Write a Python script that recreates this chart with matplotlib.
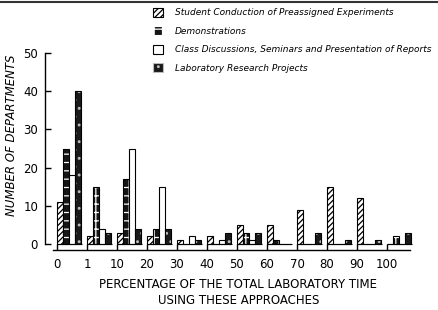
import numpy as np
import matplotlib
matplotlib.use("Agg")
from matplotlib import pyplot as plt
from matplotlib.patches import Patch
from matplotlib.lines import Line2D

# 数据
groups = ["0", "1", "10", "20", "30", "40", "50", "60", "70", "80", "90", "100"]
student = [11, 2, 3, 2, 1, 2, 5, 5, 9, 15, 12, 0]
demo = [25, 15, 17, 4, 0, 0, 3, 1, 0, 0, 0, 2]
classes = [18, 4, 25, 15, 2, 1, 1, 0, 0, 0, 0, 0]
lab = [40, 3, 4, 4, 1, 3, 3, 0, 3, 1, 1, 3]
labels = ["Student Conduction of Preassigned Experiments",
          "Demonstrations",
          "Class Discussions, Seminars and Presentation of Reports",
          "Laboratory Research Projects"]

W, H = 439, 310
fig = plt.figure(figsize=(W / 100, H / 100), dpi=100)

# 坐标轴位置（像素换算）
x0_px, px_per_x = 57, 30.0
y0_px, px_per_y = 244, 3.82
left_px, right_px, bot_px, top_px = 45, 432, 250, 20
ax = fig.add_axes([left_px / W, 1 - bot_px / H, (right_px - left_px) / W, (bot_px - top_px) / H])
ax.set_xlim((left_px - x0_px) / px_per_x, (right_px - x0_px) / px_per_x)
ax.set_ylim(-(bot_px - y0_px) / px_per_y, (y0_px - top_px) / px_per_y)

x = np.arange(len(groups))
w = 0.2
lw = 0.8

plt.rcParams['hatch.linewidth'] = 0.9
ax.bar(x, student, w, align="edge", facecolor="white", edgecolor="black", hatch="//////", linewidth=lw)
ax.bar(x + w, demo, w, align="edge", facecolor="#151515", edgecolor="white", hatch="++", linewidth=0)
ax.bar(x + w, demo, w, align="edge", facecolor="none", edgecolor="black", linewidth=lw)
ax.bar(x + 2 * w, classes, w, align="edge", facecolor="white", edgecolor="black", linewidth=lw)
ax.bar(x + 3 * w, lab, w, align="edge", facecolor="#1a1a1a", edgecolor="#bbbbbb", hatch="..", linewidth=0)
ax.bar(x + 3 * w, lab, w, align="edge", facecolor="none", edgecolor="black", linewidth=lw)
ax.hlines(np.zeros(len(x)), x, x + 4 * w + 0.03, color="black", linewidth=lw)

# 坐标轴样式
for s in ["top", "right"]:
    ax.spines[s].set_visible(False)
ax.spines["left"].set_bounds(0, 50)
ax.spines["bottom"].set_bounds((53 - x0_px) / px_per_x, (410 - x0_px) / px_per_x)
ax.spines["left"].set_linewidth(1)
ax.spines["bottom"].set_linewidth(1)

ax.set_yticks(range(0, 51, 10))
ax.set_xticks(x)
ax.set_xticklabels(groups)
ax.tick_params(axis="both", direction="in", length=4, width=1, labelsize=8.5)
ax.tick_params(axis="y", pad=5)
ax.tick_params(axis="x", pad=6)

ax.set_ylabel("NUMBER OF DEPARTMENTS", fontsize=8.5, style="italic", labelpad=4)
ax.set_xlabel("PERCENTAGE OF THE TOTAL LABORATORY TIME\nUSING THESE APPROACHES",
              fontsize=8.5, labelpad=5, linespacing=1.25)

handles = [Patch(facecolor="white", edgecolor="black", hatch="//////", linewidth=lw),
           Patch(facecolor="#151515", edgecolor="white", hatch="++", linewidth=lw),
           Patch(facecolor="white", edgecolor="black", linewidth=lw),
           Patch(facecolor="#1a1a1a", edgecolor="#bbbbbb", hatch="..", linewidth=lw)]
fig.legend(handles, labels, loc="upper left", bbox_to_anchor=(153 / W, 1 - 8 / H),
           frameon=False, prop={"style": "italic", "size": 6.5},
           handlelength=1.1, handleheight=1.1, handletextpad=1.3, labelspacing=1.0,
           borderpad=0, borderaxespad=0)

# 顶部扫描边线
fig.add_artist(Line2D([0, 1], [1 - 2 / H, 1 - 2 / H], color="#333333", linewidth=1.5))

fig.savefig("out.png", dpi=100)
